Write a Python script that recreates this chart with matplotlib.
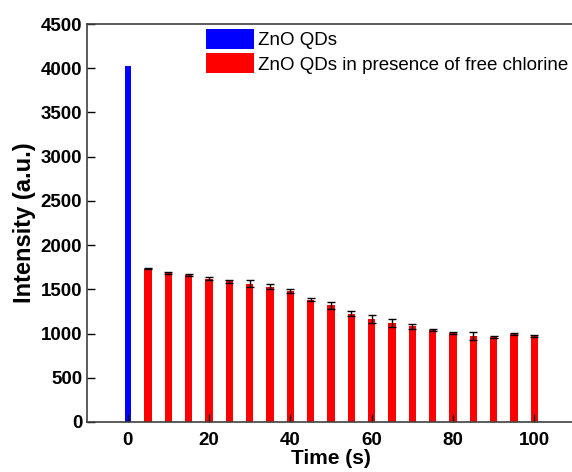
import matplotlib.pyplot as plt

plt.rcParams['font.family'] = ['Liberation Sans', 'DejaVu Sans']

# data
blue_time = [0]
blue_val = [4025]
red_time = [5, 10, 15, 20, 25, 30, 35, 40, 45, 50,
            55, 60, 65, 70, 75, 80, 85, 90, 95, 100]
red_val = [1735, 1685, 1660, 1620, 1590, 1565, 1530, 1480, 1385, 1320,
           1225, 1165, 1120, 1080, 1038, 1008, 975, 963, 993, 972]
red_err = [10, 10, 12, 20, 20, 40, 30, 20, 20, 40,
           30, 50, 50, 30, 10, 15, 45, 8, 10, 10]

fig = plt.figure(figsize=(5.72, 4.72), dpi=100)
ax = fig.add_axes([87/572, 50/472, 488/572, 398/472])

ax.bar(blue_time, blue_val, width=1.5, color='#0000ff', label='ZnO QDs')
ax.bar(red_time, red_val, width=1.8, color='#ff0000',
       label='ZnO QDs in presence of free chlorine')
ax.errorbar(red_time, red_val, yerr=red_err, fmt='none', ecolor='black',
            elinewidth=1, capsize=3, capthick=1)

ax.set_xlim(-10, 110)
ax.set_ylim(0, 4500)
ax.set_xticks([0, 20, 40, 60, 80, 100])
ax.set_yticks(range(0, 4501, 500))
ax.tick_params(direction='in', length=6, width=1, labelsize=13.5, colors='black')
ax.tick_params(axis='x', pad=7)
for lab in ax.get_xticklabels() + ax.get_yticklabels():
    lab.set_fontweight('bold')
ax.spines['right'].set_visible(False)
for s in ax.spines.values():
    s.set_color('#404040')
    s.set_linewidth(1.2)

ax.set_xlabel('Time (s)', fontsize=15, fontweight='bold', labelpad=0)
ax.set_ylabel('Intensity (a.u.)', fontsize=17, fontweight='bold', labelpad=3)

fig.legend(loc='upper left', bbox_to_anchor=(206/572, 1 - 29/472), frameon=False,
           fontsize=13.5, handlelength=2.56, handleheight=1.25, handletextpad=0.2,
           labelspacing=0.22, borderpad=0, borderaxespad=0)

fig.savefig('out.png', dpi=100)
